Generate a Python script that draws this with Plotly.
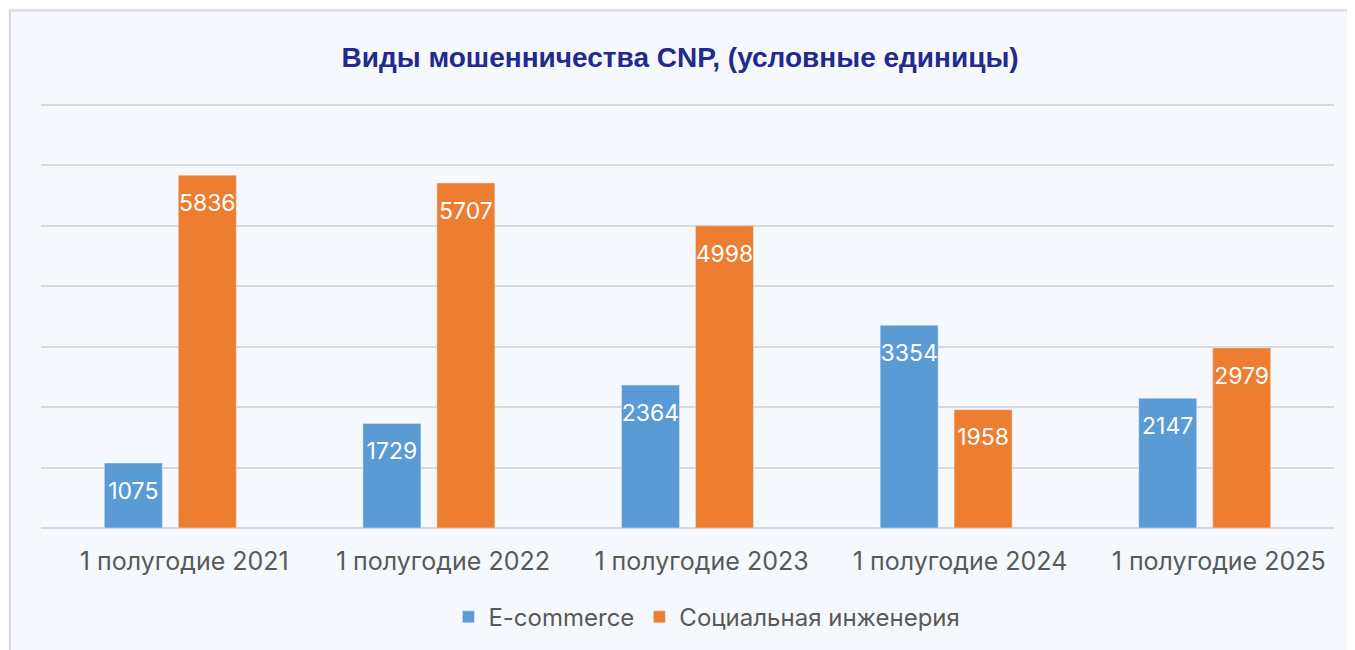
import plotly.graph_objects as go

categories = ['1 полугодие 2021', '1 полугодие 2022', '1 полугодие 2023', '1 полугодие 2024', '1 полугодие 2025']
ecommerce = [1075, 1729, 2364, 3354, 2147]
social = [5836, 5707, 4998, 1958, 2979]

fig = go.Figure()
fig.add_trace(go.Bar(x=categories, y=ecommerce, name='E-commerce', marker_color='#5b9bd5',
                     offsetgroup='a', hoverinfo='y'))
fig.add_trace(go.Bar(x=categories, y=social, name='Социальная инженерия', marker_color='#ed7d31',
                     offsetgroup='b', hoverinfo='y'))

# подписи значений внутри столбцов (невидимые маркеры сдвигают текст вниз от вершины)
for vals, grp in [(ecommerce, 'a'), (social, 'b')]:
    fig.add_trace(go.Scatter(x=categories, y=vals, mode='markers+text', text=vals,
                             textposition='bottom center', offsetgroup=grp,
                             marker=dict(size=28, opacity=0), cliponaxis=False,
                             textfont=dict(color='white', size=23, family='Inter'),
                             showlegend=False, hoverinfo='skip'))

# рамка вокруг диаграммы
fig.add_shape(type='rect', xref='paper', yref='paper', x0=-0.024, x1=1.03, y0=-0.4, y1=1.2175,
              line=dict(color='#d9d9d9', width=2), fillcolor='rgba(0,0,0,0)', layer='below')

fig.update_layout(
    title=dict(text='<b>Виды мошенничества CNP, (условные единицы)</b>', x=0.496, xanchor='center',
               y=0.925, yanchor='middle', font=dict(family='Liberation Sans', size=28, color='#232a8c')),
    width=1355, height=650,
    margin=dict(l=33, r=29, t=95, b=130),
    paper_bgcolor='#f5f9fd', plot_bgcolor='#f5f9fd',
    barmode='group', bargap=0.428, bargroupgap=0.216,
    scattermode='group', scattergap=0.428,
    font=dict(family='Inter', size=24, color='#595959'),
    legend=dict(orientation='h', x=0.515, xanchor='center', y=-0.21, yanchor='middle',
                font=dict(size=24, color='#595959'), itemwidth=30),
)
fig.update_yaxes(range=[0, 7030], dtick=1000, showticklabels=False, gridcolor='#d9d9d9', gridwidth=2,
                 zeroline=True, zerolinecolor='#d9d9d9', zerolinewidth=2)
fig.update_xaxes(ticks='', ticklabelstandoff=16, ticklabelshift=14, tickfont=dict(size=25, color='#595959'))

fig.write_html('out.html')
